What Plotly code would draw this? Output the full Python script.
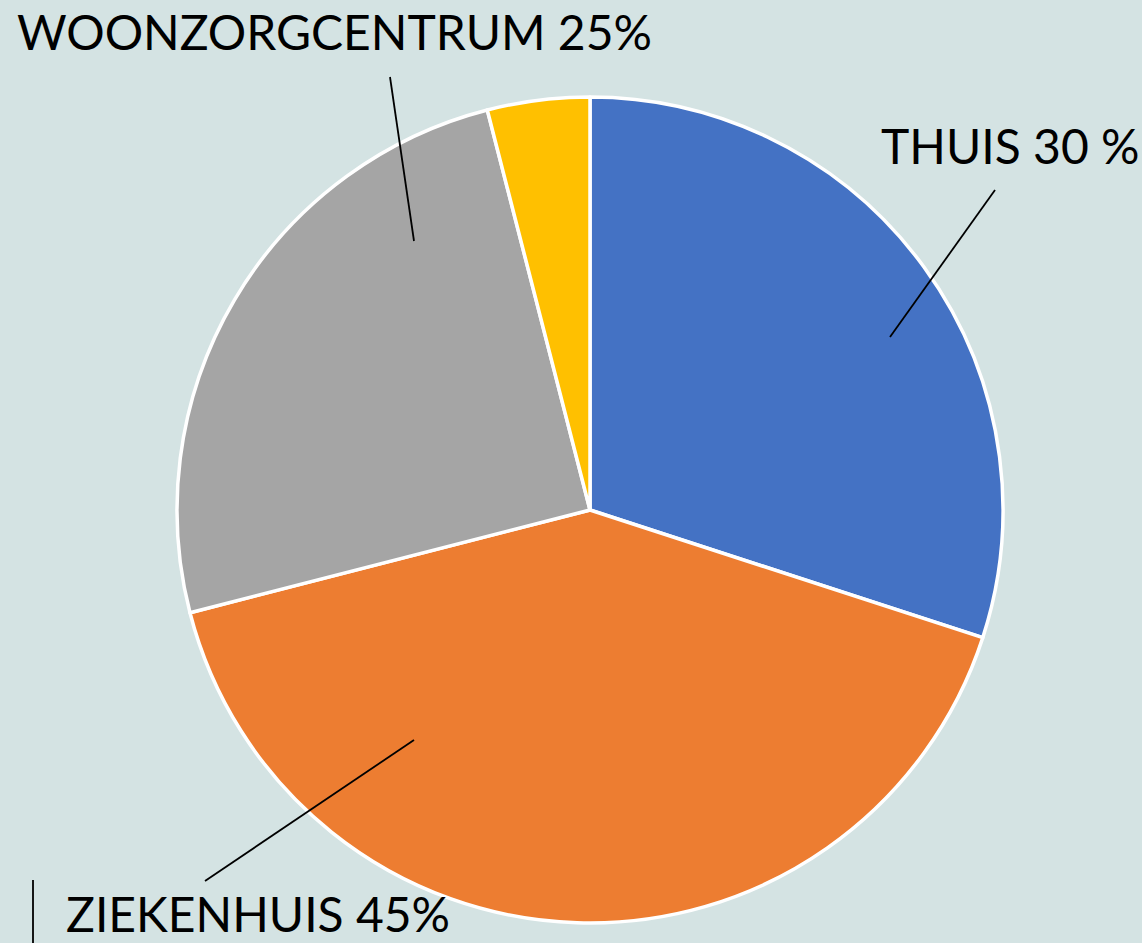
import plotly.graph_objects as go

categories = ["THUIS", "ZIEKENHUIS", "WOONZORGCENTRUM", "ANDERS"]
values = [30, 41, 25, 4]
label_texts = ["THUIS 30 %", "ZIEKENHUIS 45%", "WOONZORGCENTRUM 25%"]
colors = ["#4472C4", "#ED7D31", "#A5A5A5", "#FFC000"]

W, H = 1142, 943
BG = "#D4E3E3"
FONT = "Lato"

def px(x):
    return x / W

def py(y):
    return 1 - y / H

cx, cy, r = 590, 510, 413

fig = go.Figure(go.Pie(
    labels=categories,
    values=values,
    sort=False,
    direction="clockwise",
    rotation=0,
    textinfo="none",
    hoverinfo="label+percent",
    marker=dict(colors=colors, line=dict(color="white", width=3.5)),
    domain=dict(x=[px(cx - r), px(cx + r)], y=[py(cy + r), py(cy - r)]),
    showlegend=False,
))

lines = [
    ((995, 190), (890, 337)),
    ((390, 77), (414, 241)),
    ((414, 740), (205, 881)),
    ((33, 880), (33, 943)),
]
shapes = []
for (x0, y0), (x1, y1) in lines:
    shapes.append(dict(type="line", xref="paper", yref="paper",
                       x0=px(x0), y0=py(y0), x1=px(x1), y1=py(y1),
                       line=dict(color="black", width=1.8)))

label_pos = [(880, 145, "middle"), (65, 943, "bottom"), (16, 31, "middle")]
annotations = []
for txt, (x, y, ya) in zip(label_texts, label_pos):
    annotations.append(dict(text=txt, xref="paper", yref="paper",
                            x=px(x), y=py(y), xanchor="left", yanchor=ya,
                            showarrow=False, borderpad=0,
                            font=dict(family=FONT, size=48, color="black")))

fig.update_layout(
    width=W, height=H,
    margin=dict(l=0, r=0, t=0, b=0),
    paper_bgcolor=BG, plot_bgcolor=BG,
    shapes=shapes, annotations=annotations,
)

fig.write_html(
    "out.html",
    config={"displayModeBar": False},
    post_script="document.body.style.margin='0';document.body.style.padding='0';document.body.style.overflow='hidden';",
)
